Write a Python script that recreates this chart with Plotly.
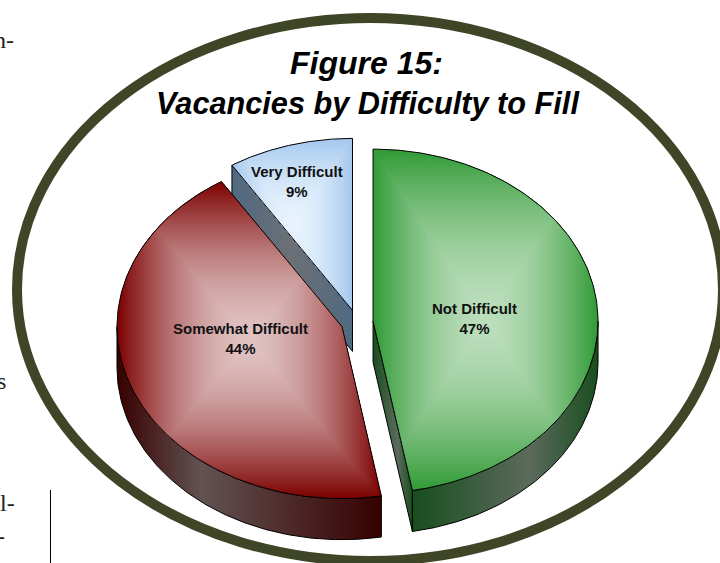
import numpy as np
import plotly.graph_objects as go

categories = ["Not Difficult", "Somewhat Difficult", "Very Difficult"]
values = [47.2, 43.8, 9.0]

# look of each slice: base colour at the rim, light colour in the middle
rim_colors = [(50, 155, 55), (125, 2, 2), (165, 200, 238)]
centre_colors = [(188, 222, 188), (224, 194, 194), (232, 243, 253)]
side_end_colors = ["rgb(24,78,30)", "rgb(55,0,0)", "rgb(80,105,130)"]
side_mid_colors = ["rgb(92,106,92)", "rgb(98,82,82)", "rgb(108,112,118)"]
side_peaks = [0.63, 0.32, 0.5]
label_xy = [(474, 318), (240, 338), (297, 181)]
draw_order = [2, 1, 0]

# pie geometry in pixels
CX, CY = 357, 322.2
RX, RY = 225, 172
DEPTH = 41
EXPLODE = 16.1
LEVELS = 56
OLIVE = "#3f4527"

fig = go.Figure()


def add_poly(x, y, **kw):
    fig.add_trace(go.Scatter(x=x, y=y, mode="lines", hoverinfo="skip", showlegend=False, **kw))


def clip_rect(pts, x0, x1, y0, y1):
    # Sutherland-Hodgman against the four sides of a box
    for axis, lim, keep_low in [(0, x0, False), (0, x1, True), (1, y0, False), (1, y1, True)]:
        out = []
        for i in range(len(pts)):
            a, b = pts[i - 1], pts[i]
            a_in = a[axis] <= lim if keep_low else a[axis] >= lim
            b_in = b[axis] <= lim if keep_low else b[axis] >= lim
            if a_in != b_in:
                s = (lim - a[axis]) / (b[axis] - a[axis])
                out.append((a[0] + s * (b[0] - a[0]), a[1] + s * (b[1] - a[1])))
            if b_in:
                out.append(b)
        pts = out
        if not pts:
            break
    return pts


def side_fill(i, xs):
    peak = side_peaks[i]
    return dict(
        type="horizontal",
        start=float(min(xs)),
        stop=float(max(xs)),
        colorscale=[[0, side_end_colors[i]], [peak, side_mid_colors[i]], [1, side_end_colors[i]]],
    )


total = sum(values)
edges = np.cumsum([0] + values) / total * 2 * np.pi

for i in draw_order:
    a0, a1 = edges[i], edges[i + 1]
    mid = (a0 + a1) / 2
    ax = CX + EXPLODE * np.sin(mid)
    ay = CY - EXPLODE * RY / RX * np.cos(mid)
    px = lambda a: ax + RX * np.sin(a)
    py = lambda a: ay - RY * np.cos(a)

    # flat cut faces that look towards the viewer
    for a, show in [(a0, np.sin(a0) < -0.01), (a1, np.sin(a1) > 0.01)]:
        if show:
            xs = [ax, px(a), px(a), ax, ax]
            ys = [ay, py(a), py(a) + DEPTH, ay + DEPTH, ay]
            add_poly(xs, ys, fill="toself", fillgradient=side_fill(i, xs), line=dict(color="black", width=1))

    # outer wall, only the front half of the rim shows
    s0, s1 = max(a0, np.pi / 2), min(a1, 3 * np.pi / 2)
    if s1 > s0:
        t = np.linspace(s0, s1, 120)
        xs = np.r_[px(t), px(t)[::-1], px(t)[0]]
        ys = np.r_[py(t), py(t)[::-1] + DEPTH, py(t)[0]]
        add_poly(xs, ys, fill="toself", fillgradient=side_fill(i, xs), line=dict(color="black", width=1))

    # top face, rectangular path gradient as stacked clipped polygons
    t = np.linspace(a0, a1, 200)
    outline = [(ax, ay)] + list(zip(px(t), py(t)))
    ox = [p[0] for p in outline]
    oy = [p[1] for p in outline]
    bx, by = (min(ox) + max(ox)) / 2, (min(oy) + max(oy)) / 2
    hw, hh = (max(ox) - min(ox)) / 2, (max(oy) - min(oy)) / 2
    for lev in np.linspace(1, 0.02, LEVELS):
        part = clip_rect(outline, bx - lev * hw, bx + lev * hw, by - lev * hh, by + lev * hh)
        if len(part) < 3:
            continue
        mix = 1 - lev ** 1.7
        c = [round(r + (l - r) * mix) for r, l in zip(rim_colors[i], centre_colors[i])]
        col = f"rgb({c[0]},{c[1]},{c[2]})"
        add_poly([p[0] for p in part] + [part[0][0]], [p[1] for p in part] + [part[0][1]],
                 fill="toself", fillcolor=col, line=dict(width=0))
    add_poly(ox + [ox[0]], oy + [oy[0]], line=dict(color="black", width=1))

for name, v, (lx, ly) in zip(categories, values, label_xy):
    fig.add_annotation(x=lx, y=ly, text=f"<b>{name}<br>{round(v)}%</b>", showarrow=False,
                       font=dict(family="Liberation Sans", size=15, color="#111111"))

# title on two lines, placed separately
fig.add_annotation(x=366, y=63, text="<b><i>Figure 15:</i></b>", showarrow=False,
                   font=dict(family="Liberation Sans", size=32, color="black"))
fig.add_annotation(x=368, y=103, text="<b><i>Vacancies by Difficulty to Fill</i></b>", showarrow=False,
                   font=dict(family="Liberation Sans", size=30.7, color="black"))

# bits of the page text around the figure
for txt, tx, ty in [("n-", 15.5, 40), (".", 2, 72), ("s", 8, 381), ("l-", 16.5, 503), ("-", 7, 536)]:
    fig.add_annotation(x=tx, y=ty, text=txt, showarrow=False, xanchor="right",
                       font=dict(family="Liberation Serif", size=24, color="#222222"))

fig.add_shape(type="circle", x0=17, x1=723, y0=18, y1=561, line=dict(color=OLIVE, width=10), layer="below")
fig.add_shape(type="line", x0=50.5, x1=50.5, y0=490, y1=563, line=dict(color="black", width=1))

fig.update_xaxes(range=[0, 720], visible=False, fixedrange=True)
fig.update_yaxes(range=[563, 0], visible=False, fixedrange=True)
fig.update_layout(width=720, height=563, margin=dict(l=0, r=0, t=0, b=0),
                  paper_bgcolor="white", plot_bgcolor="white", showlegend=False)
# the page's default body margin would push the figure 8px in
fig.write_html("out.html", config=dict(displayModeBar=False),
               post_script="document.body.style.margin='0';document.body.style.overflow='hidden';")
